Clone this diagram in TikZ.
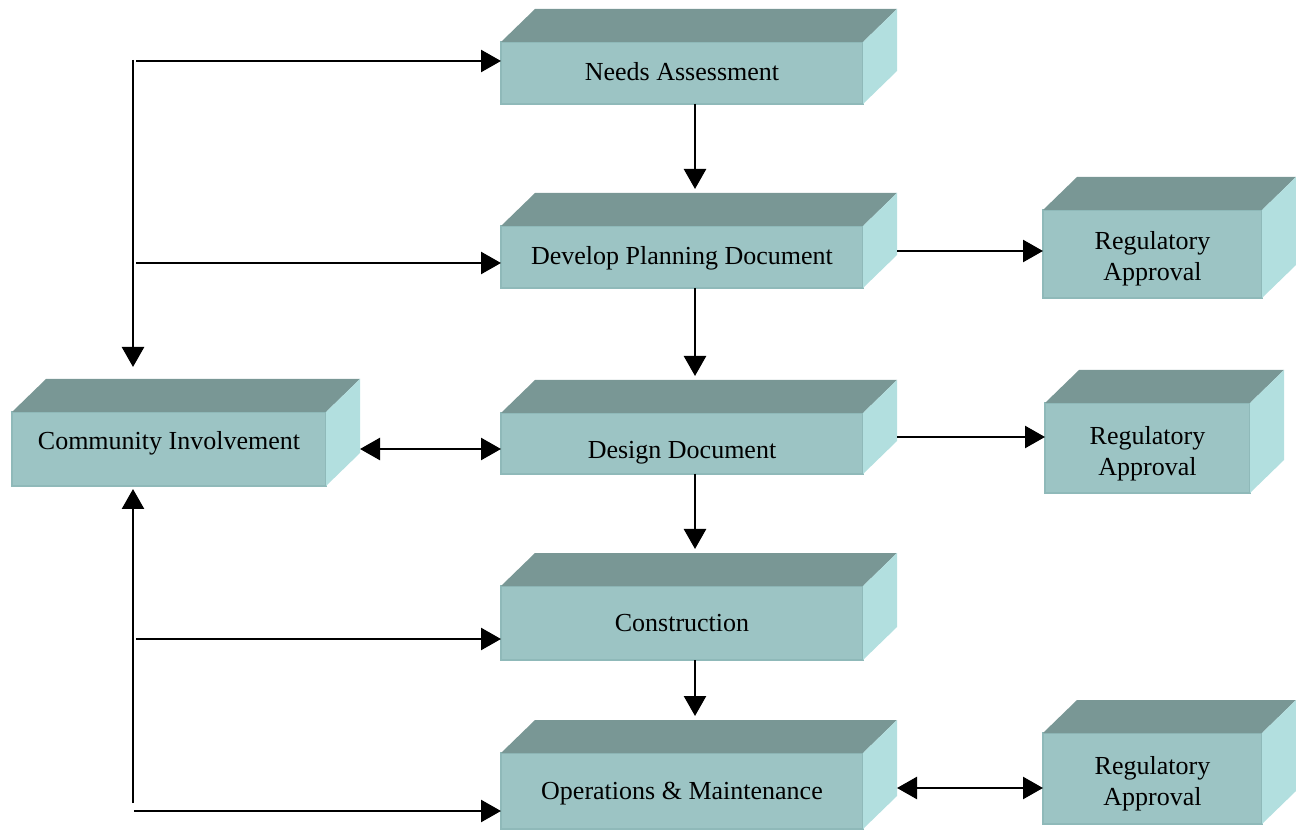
\documentclass[tikz,border=0pt]{standalone}
\usepackage{fontspec}
\setmainfont{Liberation Serif}
\usetikzlibrary{arrows.meta}
\definecolor{boxfront}{RGB}{156,196,196}
\definecolor{boxtop}{RGB}{121,151,149}
\definecolor{boxside}{RGB}{178,223,223}
\definecolor{boxedge}{RGB}{143,185,185}
\newcommand{\boxfaces}[1]{
  \fill[boxtop] (#1.north west) -- ([shift={(34,33)}]#1.north west)
    -- ([shift={(34,33)}]#1.north east) -- (#1.north east) -- cycle;
  \fill[boxside] (#1.north east) -- ([shift={(34,33)}]#1.north east)
    -- ([shift={(34,33)}]#1.south east) -- (#1.south east) -- cycle;
}
\newcommand{\moved}[2]{\raisebox{#1}[\height][\depth]{#2}}
\newcommand{\regtext}[1]{\moved{#1}{\begin{tabular}{@{}c@{}}Regulatory\\Approval\end{tabular}}}
\tikzset{x=1pt, y=1pt,
  stage/.style={fill=boxfront, draw=boxedge, line width=2.5pt, outer sep=0pt,
    inner sep=0pt, align=center, font=\fontsize{26}{31}\selectfont},
  flow/.style={line width=2.5pt, -{Triangle[length=20pt,width=22pt]}},
  twoway/.style={line width=2.5pt,
    {Triangle[length=20pt,width=22pt]}-{Triangle[length=20pt,width=22pt]}}}

\begin{document}
\begin{tikzpicture}
  \useasboundingbox (0,0) rectangle (1296,831);
  \node[stage, minimum width=362, minimum height=62] (needs) at (682,758) {\moved{1pt}{Needs Assessment}};
  \node[stage, minimum width=362, minimum height=62] (plan) at (682,574) {\moved{-1pt}{Develop Planning Document}};
  \node[stage, minimum width=362, minimum height=61] (design) at (682,387.5) {\moved{-9pt}{Design Document}};
  \node[stage, minimum width=362, minimum height=74] (constr) at (682,208) {Construction};
  \node[stage, minimum width=362, minimum height=76] (ops) at (682,40) {\moved{-3pt}{Operations \& Maintenance}};
  \node[stage, minimum width=314, minimum height=74] (comm) at (169,382) {\moved{6pt}{Community Involvement}};
  \node[stage, minimum width=219, minimum height=88] (reg1) at (1152.5,577) {\regtext{-5pt}};
  \node[stage, minimum width=205, minimum height=90] (reg2) at (1147.5,383) {\regtext{-6pt}};
  \node[stage, minimum width=219, minimum height=91] (reg3) at (1152.5,52.5) {\regtext{-5pt}};
  \boxfaces{needs}
  \boxfaces{plan}
  \boxfaces{design}
  \boxfaces{constr}
  \boxfaces{ops}
  \boxfaces{comm}
  \boxfaces{reg1}
  \boxfaces{reg2}
  \boxfaces{reg3}

  \draw[flow] ([xshift=13]needs.south) -- ([xshift=13,yshift=37]plan.north);
  \draw[flow] ([xshift=13]plan.south) -- ([xshift=13,yshift=37]design.north);
  \draw[flow] ([xshift=13]design.south) -- ([xshift=13,yshift=37]constr.north);
  \draw[flow] ([xshift=13]constr.south) -- ([xshift=13,yshift=37]ops.north);

  \draw[flow] ([shift={(34,6)}]plan.east) -- ([yshift=3]reg1.west);
  \draw[flow] ([shift={(34,6.5)}]design.east) -- ([yshift=11]reg2.west);
  \draw[twoway] ([shift={(34,3)}]ops.east) -- ([yshift=-9.5]reg3.west);
  \draw[twoway] ([xshift=34]comm.east) -- ([yshift=-5.5]design.west);

  \coordinate (ctop) at (133,771);
  \coordinate (cbot) at (133,28);
  \draw[flow] (ctop) -- ([xshift=-36,yshift=45]comm.north);
  \draw[flow] ([xshift=3,yshift=12]needs.west -| ctop) -- ([yshift=12]needs.west);
  \draw[flow] ([xshift=3,yshift=-6]plan.west -| ctop) -- ([yshift=-6]plan.west);
  \draw[flow] (cbot) -- ([xshift=-36,yshift=-3]comm.south);
  \draw[flow] ([xshift=3,yshift=-16]constr.west -| cbot) -- ([yshift=-16]constr.west);
  \draw[flow] ([xshift=1,yshift=-20]ops.west -| cbot) -- ([yshift=-20]ops.west);
\end{tikzpicture}
\end{document}
